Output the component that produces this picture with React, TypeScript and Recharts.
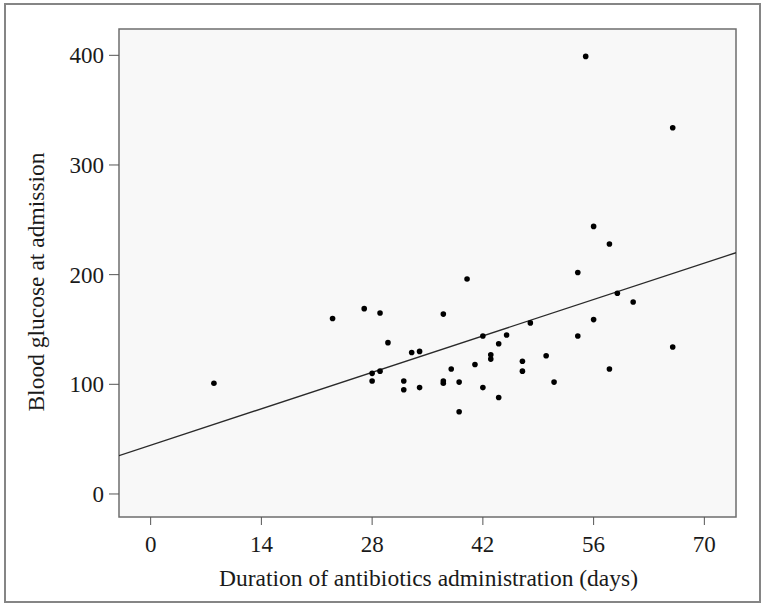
import { CartesianGrid, ReferenceArea, Scatter, ScatterChart, XAxis, YAxis } from 'recharts';

// duration of antibiotics (days) vs blood glucose at admission
const days = [
  8, 23, 27, 29, 28, 29, 28, 30, 32, 32, 33, 34, 34, 37, 37, 37, 38, 39, 39, 40, 41, 42,
  42, 43, 43, 44, 44, 45, 47, 47, 48, 50, 51, 54, 54, 55, 56, 56, 58, 58, 59, 61, 66, 66,
];
const glucose = [
  101, 160, 169, 165, 110, 112, 103, 138, 103, 95, 129, 130, 97, 164, 103, 101, 114, 102,
  75, 196, 118, 144, 97, 127, 123, 137, 88, 145, 121, 112, 156, 126, 102, 202, 144, 399,
  244, 159, 228, 114, 183, 175, 334, 134,
];
const xTicks = [0, 14, 28, 42, 56, 70];
const yTicks = [0, 100, 200, 300, 400];
const fitDays = [-4, 74];
const fitGlucose = [35, 220];

const X_DOMAIN: [number, number] = [-4, 74];
const Y_DOMAIN: [number, number] = [-21, 424];
const FONT = "'Liberation Serif', 'DejaVu Serif', serif";

const points = days.map((d, i) => ({ x: d, y: glucose[i] }));
const fit = fitDays.map((d, i) => ({ x: d, y: fitGlucose[i] }));

const tickStyle = { fill: '#1a1a1a', fontSize: 23, fontFamily: FONT };

function XTitle({ viewBox }: any) {
  const { x, y, width, height } = viewBox;
  return (
    <text x={x + width / 2 + 1} y={y + height} textAnchor="middle" fill="#1a1a1a" fontSize={23.5} fontFamily={FONT}>
      Duration of antibiotics administration (days)
    </text>
  );
}

function YTitle({ viewBox }: any) {
  const { x, y, height } = viewBox;
  const cx = x + 24.5;
  const cy = y + height / 2 + 9;
  return (
    <text
      x={cx}
      y={cy}
      transform={`rotate(-90, ${cx}, ${cy})`}
      textAnchor="middle"
      fill="#1a1a1a"
      fontSize={23.5}
      fontFamily={FONT}
    >
      Blood glucose at admission
    </text>
  );
}

export default function App() {
  return (
    <div style={{ position: 'absolute', left: 0, top: 0, width: 766, height: 607, background: '#fff' }}>
      <div
        style={{
          position: 'absolute',
          left: 4,
          top: 3,
          width: 757,
          height: 600,
          border: '2px solid #858585',
          boxSizing: 'border-box',
        }}
      />
      <ScatterChart width={766} height={607} margin={{ top: 29, right: 30, bottom: 21, left: 19 }}>
        <CartesianGrid fill="#f8f8f8" horizontal={false} vertical={false} />
        <XAxis
          type="number"
          dataKey="x"
          domain={X_DOMAIN}
          ticks={xTicks}
          allowDataOverflow
          height={69}
          axisLine={false}
          tickSize={8}
          tickMargin={11}
          tickLine={{ stroke: '#555' }}
          tick={tickStyle}
          label={<XTitle />}
        />
        <YAxis
          type="number"
          dataKey="y"
          domain={Y_DOMAIN}
          ticks={yTicks}
          allowDataOverflow
          width={100}
          axisLine={false}
          tickSize={10}
          tickMargin={5}
          tickLine={{ stroke: '#555' }}
          tick={tickStyle}
          label={<YTitle />}
        />
        <ReferenceArea
          x1={X_DOMAIN[0]}
          x2={X_DOMAIN[1]}
          y1={Y_DOMAIN[0]}
          y2={Y_DOMAIN[1]}
          fill="none"
          stroke="#6e6e6e"
          strokeWidth={1.5}
        />
        <Scatter
          data={fit}
          line={{ stroke: '#2a2a2a', strokeWidth: 1.3 }}
          lineType="joint"
          shape={() => <g />}
          isAnimationActive={false}
        />
        <Scatter
          data={points}
          shape={(p: any) => <circle cx={p.cx} cy={p.cy} r={2.8} fill="#000" />}
          isAnimationActive={false}
        />
      </ScatterChart>
    </div>
  );
}
